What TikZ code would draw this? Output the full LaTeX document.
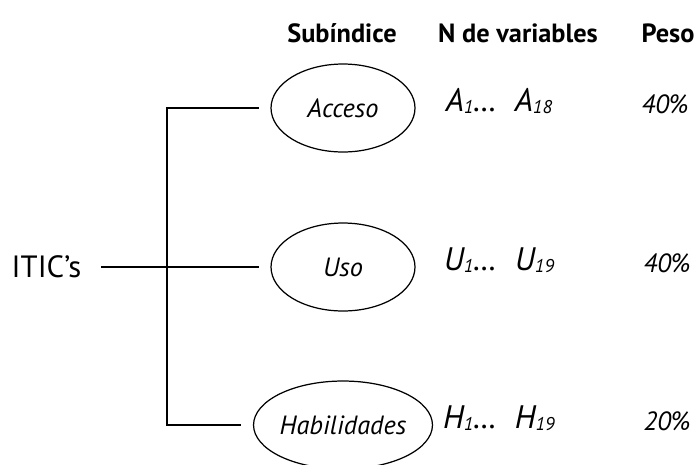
\documentclass[tikz,border=0pt]{standalone}
\usepackage{fontspec}
\setmainfont{PT Sans}
\usepackage{tikz}
\usetikzlibrary{shapes.geometric}
\tikzstyle{subidx} = [ellipse,draw,line width=0.7pt,inner sep=0pt,outer sep=7pt,minimum width=2.88cm,minimum height=1.76cm,font=\fontsize{15}{17}\selectfont\itshape]
\tikzstyle{header} = [font=\fontsize{15}{17}\selectfont\bfseries]
\tikzstyle{vars} = [font=\fontsize{18.5}{20}\selectfont\itshape]
\tikzstyle{peso} = [font=\fontsize{15}{17}\selectfont\itshape]
\tikzstyle{line} = [line width=0.7pt]
\newcommand{\vsub}[1]{\raisebox{-0.15ex}{\fontsize{10.5}{12}\selectfont #1}}

\begin{document}
\begin{tikzpicture}[x=0.02cm,y=-0.02cm]
\useasboundingbox (0,0) rectangle (696,464);

% headers
\node[header] (hsub)  at (342,33) {Subíndice};
\node[header] (hvar)  at (518,33) {N de variables};
\node[header] (hpeso) at (668,33) {Peso};

% subindices
\node[subidx] (acc) at (343,108) {Acceso};
\node[subidx] (uso) at (343,267) {Uso};
\node[subidx] (hab) at (343,425) {Habilidades};

\node[font=\fontsize{17.5}{19}\selectfont,inner sep=0pt,outer xsep=11.5pt] (itic) at (46.5,267) {ITIC’s};
\coordinate (br) at (167,267);

\draw[line] (itic) -- (uso);
\draw[line] (acc) -| (br) |- (hab);

% variables and weights
\node[vars] (vacc) at (499,101) {A\vsub{1}…\hspace{0.55em}A\vsub{18}};
\node[vars] (vuso) at (499,260) {U\vsub{1}…\hspace{0.55em}U\vsub{19}};
\node[vars] (vhab) at (499,418) {H\vsub{1}…\hspace{0.55em}H\vsub{19}};

\node[peso] (pacc) at (665,104) {40\%};
\node[peso] (puso) at (667,263) {40\%};
\node[peso] (phab) at (667,421) {20\%};
\end{tikzpicture}
\end{document}
